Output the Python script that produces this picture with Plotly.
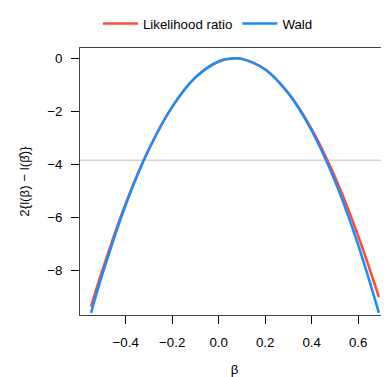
import plotly.graph_objects as go

beta = [-0.549, -0.5, -0.4, -0.3, -0.2, -0.1, 0.0, 0.07, 0.1, 0.2, 0.3, 0.4, 0.5, 0.6, 0.689]
lr = [-9.36, -7.98, -5.47, -3.42, -1.83, -0.72, -0.12, 0.0, -0.02, -0.42, -1.31, -2.67, -4.47, -6.70, -9.00]
wald = [-9.60, -8.14, -5.53, -3.43, -1.83, -0.72, -0.12, 0.0, -0.02, -0.42, -1.33, -2.73, -4.63, -7.04, -9.60]
cutoff = -3.84
xticks = [-0.4, -0.2, 0.0, 0.2, 0.4, 0.6]
yticks = [0, -2, -4, -6, -8]

RED = "#FF4B36"
BLUE = "#1A8CFF"
FS = 13.3
font = dict(family="Liberation Sans, Arial, sans-serif", size=FS, color="#000000")

fig = go.Figure()
fig.add_trace(go.Scatter(x=beta, y=lr, mode="lines", name="Likelihood ratio",
                         line=dict(color=RED, width=2.5, shape="spline")))
fig.add_trace(go.Scatter(x=beta, y=wald, mode="lines", name="Wald",
                         line=dict(color=BLUE, width=2.5, shape="spline")))
fig.add_hline(y=cutoff, line=dict(color="#BEBEBE", width=1), layer="below")

# page has an 8px body margin, so the figure is offset by 8px
fig.update_layout(
    width=381, height=369,
    margin=dict(l=72, r=0, t=30, b=62),
    paper_bgcolor="white", plot_bgcolor="white",
    font=font,
    showlegend=True,
    legend=dict(orientation="h", x=0.058, xanchor="left", y=1.09, yanchor="middle",
                yref="paper", font=dict(size=FS), itemwidth=35,
                bgcolor="rgba(0,0,0,0)"),
    xaxis=dict(range=[-0.5965, 0.7325], tickvals=xticks,
               ticktext=["\u22120.4", "\u22120.2", "0.0", "0.2", "0.4", "0.6"],
               ticks="outside", ticklen=8, tickcolor="#000", tickwidth=1,
               showline=True, linecolor="#444", linewidth=1, mirror=True,
               showgrid=False, zeroline=False, ticklabelstandoff=7,
               title=dict(text="\u03b2", standoff=17, font=dict(size=FS))),
    yaxis=dict(range=[-9.68, 0.39], tickvals=yticks,
               ticktext=["0", "\u22122", "\u22124", "\u22126", "\u22128"],
               ticks="outside", ticklen=8, tickcolor="#000", tickwidth=1,
               showline=True, linecolor="#444", linewidth=1, mirror=False,
               showgrid=False, zeroline=False, ticklabelstandoff=6,
               title=dict(text="2{l(\u03b2) \u2212 l(\u03b2\u0302)}", standoff=14,
                          font=dict(size=FS))),
)

fig.write_html("out.html")
